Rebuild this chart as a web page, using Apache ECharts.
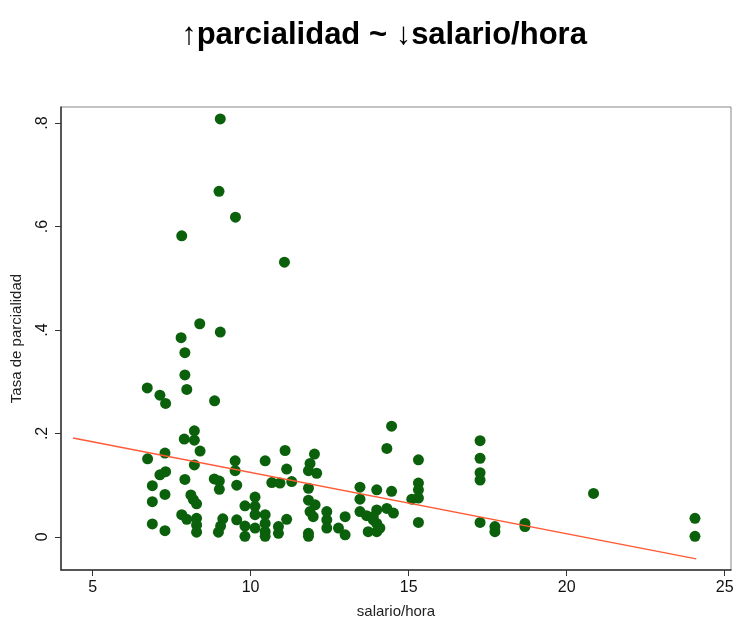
<!DOCTYPE html>
<html>
<head>
<meta charset="utf-8">
<script src="https://cdn.jsdelivr.net/npm/echarts@6/dist/echarts.min.js"></script>
<style>
  html, body { margin: 0; padding: 0; background: #fff; }
  #chart { width: 735px; height: 621px; }
</style>
</head>
<body>
<div id="chart"></div>
<script>
// salario/hora (x) y tasa de parcialidad (y)
const salario = [
  9.04, 9.0, 9.52, 7.82, 11.07, 8.39, 9.04, 7.80, 7.92, 7.92,
  6.73, 7.98, 7.13, 7.31, 8.86,
  8.22, 7.90, 8.22, 8.40, 7.29, 6.74, 9.51, 8.22, 9.51, 7.13,
  7.31, 6.89, 7.92, 8.85, 9.01, 9.01, 9.56, 7.29, 6.89, 8.11,
  8.19, 8.29, 7.82, 7.98, 8.29, 8.29, 8.29, 6.89, 7.29, 9.12,
  9.05, 8.98, 9.56, 9.82, 9.82, 9.82,
  11.09, 12.02, 10.46, 11.14, 11.88, 11.83, 12.09, 10.67, 10.93, 11.30,
  11.83, 10.14, 10.14, 10.14, 10.14, 10.46, 10.46, 10.46, 10.46, 11.14,
  10.88, 10.88, 11.83, 12.04, 11.88, 11.98, 11.83, 11.83, 12.41, 12.41,
  12.41, 12.78, 12.99, 12.99, 13.46, 13.46, 13.46, 13.67, 13.72, 13.88,
  14.46, 14.31, 15.31, 17.26, 17.26, 17.26, 17.26, 13.99, 14.46, 15.31,
  15.31, 15.31, 15.10, 13.99, 14.31, 14.52, 13.88, 13.99, 13.99, 14.09,
  15.31, 17.26, 17.73, 17.73, 18.68, 18.68, 20.85, 24.06, 24.06
];
const parcialidad = [
  0.808, 0.668, 0.618, 0.582, 0.531, 0.412, 0.396, 0.385, 0.356, 0.313,
  0.288, 0.285, 0.274, 0.258, 0.263,
  0.205, 0.189, 0.187, 0.166, 0.162, 0.151, 0.147, 0.139, 0.128, 0.120,
  0.126, 0.099, 0.111, 0.112, 0.108, 0.092, 0.100, 0.082, 0.068, 0.081,
  0.072, 0.064, 0.043, 0.034, 0.036, 0.023, 0.009, 0.025, 0.012, 0.035,
  0.021, 0.009, 0.033, 0.060, 0.021, 0.001,
  0.167, 0.160, 0.147, 0.131, 0.142, 0.128, 0.123, 0.105, 0.104, 0.107,
  0.094, 0.077, 0.059, 0.043, 0.017, 0.043, 0.026, 0.010, 0.001, 0.034,
  0.020, 0.007, 0.071, 0.062, 0.049, 0.039, 0.007, 0.001, 0.049, 0.033,
  0.017, 0.017, 0.004, 0.039, 0.096, 0.073, 0.049, 0.041, 0.010, 0.033,
  0.214, 0.171, 0.149, 0.186, 0.152, 0.124, 0.110, 0.091, 0.088, 0.104,
  0.091, 0.075, 0.073, 0.052, 0.055, 0.046, 0.039, 0.026, 0.010, 0.017,
  0.028, 0.028, 0.020, 0.010, 0.026, 0.020, 0.084, 0.036, 0.001
];
// extremos de la recta ajustada
const ajusteX = [4.38, 24.1];
const ajusteY = [0.191, -0.0425];

const xTicks = [5, 10, 15, 20, 25];
const yTicks = [0, 0.2, 0.4, 0.6, 0.8];
const yTickLabels = ['0', '.2', '.4', '.6', '.8'];

const puntos = salario.map((x, i) => [x, parcialidad[i]]);
const recta = ajusteX.map((x, i) => [x, ajusteY[i]]);

const chart = echarts.init(document.getElementById('chart'));
const font = '"Liberation Sans", Arial, Helvetica, sans-serif';

chart.setOption({
  animation: false,
  backgroundColor: '#fff',
  textStyle: { fontFamily: font },
  title: {
    text: '↑parcialidad ~ ↓salario/hora',
    left: 379,
    top: 15,
    textAlign: 'center',
    textStyle: { fontFamily: font, fontSize: 31, fontWeight: 'bold', color: '#000' }
  },
  grid: {
    left: 61, right: 4, top: 107, bottom: 51,
    outerBoundsMode: 'none',
    containLabel: false,
    show: true, borderColor: '#888', borderWidth: 1
  },
  xAxis: {
    type: 'value',
    min: 4,
    max: 25.2,
    name: 'salario/hora',
    nameLocation: 'middle',
    nameGap: 34,
    nameTextStyle: { fontSize: 15, color: '#222' },
    splitLine: { show: false },
    axisLine: { show: true, onZero: false, lineStyle: { color: '#333', width: 1.5 } },
    axisTick: { show: true, length: 6, customValues: xTicks, lineStyle: { color: '#333' } },
    axisLabel: { customValues: xTicks, fontSize: 16, color: '#111', margin: 10 }
  },
  yAxis: {
    type: 'value',
    min: -0.064,
    max: 0.831,
    name: 'Tasa de parcialidad',
    nameLocation: 'middle',
    nameGap: 37,
    nameRotate: 90,
    nameTextStyle: { fontSize: 15, color: '#222' },
    splitLine: { show: false },
    axisLine: { show: true, onZero: false, lineStyle: { color: '#333', width: 1.5 } },
    axisTick: { show: true, length: 6, customValues: yTicks, lineStyle: { color: '#333' } },
    axisLabel: {
      customValues: yTicks,
      rotate: 90,
      fontSize: 16,
      color: '#111',
      margin: 10,
      formatter: v => yTickLabels[yTicks.findIndex(t => Math.abs(t - v) < 1e-6)] ?? ''
    }
  },
  series: [
    {
      type: 'scatter',
      data: puntos,
      symbol: 'circle',
      symbolSize: 11,
      itemStyle: { color: '#0b600b', opacity: 1 },
      z: 2
    },
    {
      type: 'line',
      data: recta,
      showSymbol: false,
      lineStyle: { color: '#ff5a36', width: 1.5 },
      z: 3
    }
  ]
});
</script>
</body>
</html>
